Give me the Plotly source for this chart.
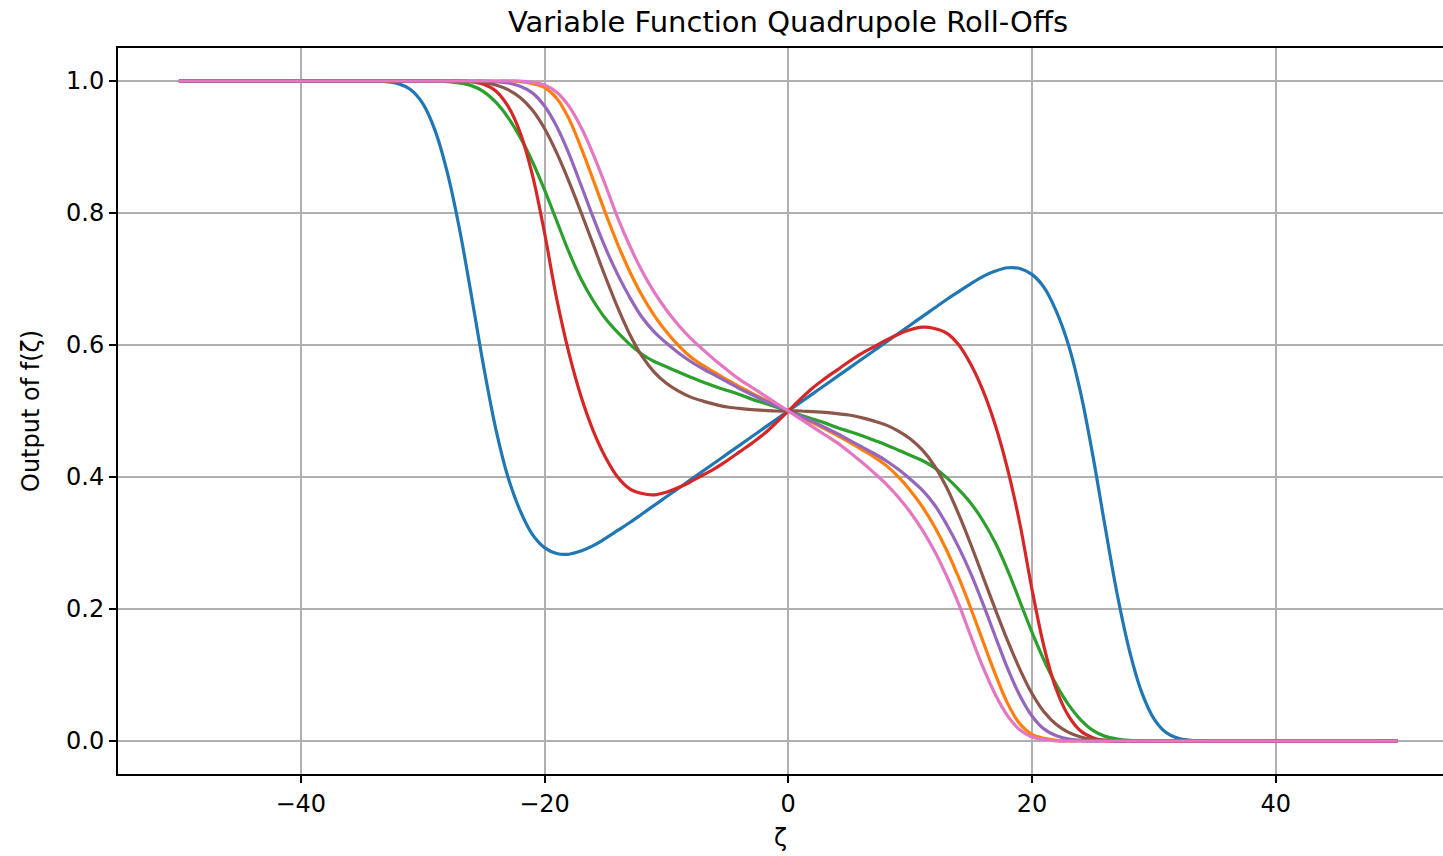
import plotly.graph_objects as go

# zeta grid: -50, -34..34, 50
zeta = [-50] + list(range(-34, 35)) + [50]

# values for zeta = -34..-1
blue_neg = [1.000, 0.999, 0.996, 0.987, 0.966, 0.926, 0.863, 0.778, 0.675, 0.568, 0.473, 0.400, 0.349, 0.313, 0.293, 0.284, 0.283, 0.288, 0.296, 0.307, 0.319, 0.331, 0.344, 0.357, 0.370, 0.383, 0.396, 0.409, 0.422, 0.435, 0.448, 0.461, 0.474, 0.487]
# values for zeta = 0..34
blue_pos = [0.500, 0.513, 0.526, 0.539, 0.552, 0.565, 0.578, 0.591, 0.604, 0.617, 0.630, 0.643, 0.656, 0.669, 0.681, 0.693, 0.704, 0.712, 0.717, 0.716, 0.707, 0.687, 0.651, 0.600, 0.527, 0.432, 0.325, 0.222, 0.137, 0.074, 0.034, 0.013, 0.004, 0.001, 0.000]

orange_neg = [1.0]*12 + [0.999, 0.996, 0.990, 0.974, 0.943, 0.899, 0.850, 0.800, 0.753, 0.711, 0.675, 0.645, 0.620, 0.599, 0.582, 0.569, 0.558, 0.547, 0.537, 0.527, 0.518, 0.509]
orange_pos = [0.500, 0.491, 0.482, 0.473, 0.463, 0.453, 0.442, 0.431, 0.418, 0.401, 0.380, 0.355, 0.325, 0.289, 0.247, 0.200, 0.150, 0.101, 0.057, 0.026, 0.010, 0.004, 0.001] + [0.0]*12

green_neg = [1.0]*6 + [0.999, 0.997, 0.993, 0.984, 0.968, 0.945, 0.915, 0.878, 0.835, 0.788, 0.741, 0.700, 0.667, 0.640, 0.619, 0.601, 0.586, 0.575, 0.567, 0.559, 0.551, 0.544, 0.537, 0.531, 0.525, 0.518, 0.512, 0.506]
green_pos = [0.500, 0.494, 0.488, 0.482, 0.475, 0.469, 0.463, 0.456, 0.449, 0.441, 0.433, 0.425, 0.414, 0.399, 0.381, 0.360, 0.333, 0.300, 0.259, 0.212, 0.165, 0.122, 0.085, 0.055, 0.032, 0.016, 0.007, 0.003, 0.001] + [0.0]*6

red_neg = [1.0]*8 + [0.999, 0.995, 0.985, 0.962, 0.922, 0.858, 0.770, 0.670, 0.588, 0.522, 0.470, 0.430, 0.400, 0.382, 0.375, 0.373, 0.377, 0.384, 0.393, 0.403, 0.413, 0.425, 0.438, 0.451, 0.465, 0.482]
red_pos = [0.500, 0.518, 0.535, 0.549, 0.562, 0.575, 0.587, 0.597, 0.607, 0.616, 0.623, 0.627, 0.625, 0.618, 0.600, 0.570, 0.530, 0.478, 0.412, 0.330, 0.230, 0.142, 0.078, 0.038, 0.015, 0.005, 0.001] + [0.0]*8

purple_neg = [1.0]*10 + [0.999, 0.997, 0.992, 0.982, 0.962, 0.931, 0.890, 0.842, 0.793, 0.747, 0.707, 0.672, 0.642, 0.620, 0.603, 0.588, 0.575, 0.564, 0.554, 0.544, 0.534, 0.525, 0.516, 0.508]
purple_pos = [0.500, 0.492, 0.484, 0.475, 0.466, 0.456, 0.446, 0.436, 0.425, 0.412, 0.397, 0.380, 0.358, 0.328, 0.293, 0.253, 0.207, 0.158, 0.110, 0.069, 0.038, 0.018, 0.008, 0.003, 0.001] + [0.0]*10

brown_neg = [1.0]*8 + [0.999, 0.998, 0.994, 0.987, 0.975, 0.956, 0.928, 0.891, 0.848, 0.801, 0.752, 0.703, 0.657, 0.616, 0.583, 0.559, 0.542, 0.530, 0.521, 0.515, 0.510, 0.506, 0.504, 0.502, 0.501, 0.500]
brown_pos = [0.500, 0.500, 0.499, 0.498, 0.496, 0.494, 0.490, 0.485, 0.479, 0.470, 0.458, 0.441, 0.417, 0.384, 0.343, 0.297, 0.248, 0.199, 0.152, 0.109, 0.072, 0.044, 0.025, 0.013, 0.006, 0.002, 0.001] + [0.0]*8

pink_neg = [1.0]*13 + [0.998, 0.994, 0.983, 0.962, 0.930, 0.889, 0.842, 0.793, 0.750, 0.712, 0.680, 0.653, 0.630, 0.610, 0.593, 0.577, 0.562, 0.548, 0.536, 0.524, 0.512]
pink_pos = [0.500, 0.488, 0.476, 0.464, 0.452, 0.438, 0.423, 0.407, 0.390, 0.370, 0.347, 0.320, 0.288, 0.250, 0.207, 0.158, 0.111, 0.070, 0.038, 0.017, 0.006, 0.002] + [0.0]*13

series = [
    ("blue", blue_neg, blue_pos, "#1f77b4"),
    ("orange", orange_neg, orange_pos, "#ff7f0e"),
    ("green", green_neg, green_pos, "#2ca02c"),
    ("red", red_neg, red_pos, "#d62728"),
    ("purple", purple_neg, purple_pos, "#9467bd"),
    ("brown", brown_neg, brown_pos, "#8c564b"),
    ("pink", pink_neg, pink_pos, "#e377c2"),
]

x_ticks = [-40, -20, 0, 20, 40]
y_ticks = [0.0, 0.2, 0.4, 0.6, 0.8, 1.0]

fig = go.Figure()
for name, neg, pos, col in series:
    y = [1.0] + neg + pos + [0.0]
    fig.add_trace(go.Scatter(x=zeta, y=y, mode="lines", name=name,
                             line=dict(color=col, width=3.2, shape="spline", smoothing=1.0)))

font = "DejaVu Sans, sans-serif"
fig.update_layout(
    width=1443, height=856,
    paper_bgcolor="white", plot_bgcolor="white",
    margin=dict(l=118, r=0, t=48, b=82),
    showlegend=False,
    font=dict(family=font, color="black"),
    title=dict(text="Variable Function Quadrupole Roll-Offs", x=(118 + 1458) / 2 / 1443,
               xanchor="center", y=1 - 22 / 856, yanchor="middle",
               font=dict(size=29, family=font, color="black")),
)
fig.update_xaxes(
    range=[-55, 53.73], tickvals=x_ticks, ticktext=[f"{v}" if v >= 0 else f"\u2212{-v}" for v in x_ticks],
    showgrid=True, gridcolor="#b0b0b0", gridwidth=1.8,
    showline=True, linecolor="black", linewidth=2, mirror=True,
    ticks="outside", ticklen=7, tickwidth=1.6, tickcolor="black",
    tickfont=dict(size=24, family=font), zeroline=False,
    title=dict(text="ζ", font=dict(size=24, family=font), standoff=12),
)
fig.update_yaxes(
    range=[-0.05, 1.05], tickvals=y_ticks, ticktext=[f"{v:.1f}" for v in y_ticks],
    showgrid=True, gridcolor="#b0b0b0", gridwidth=1.8,
    showline=True, linecolor="black", linewidth=2, mirror=False,
    ticks="outside", ticklen=7, tickwidth=1.6, tickcolor="black",
    tickfont=dict(size=24, family=font), zeroline=False,
    title=dict(text="Output of f(ζ)", font=dict(size=24, family=font), standoff=20),
)

fig.write_html("out.html")
